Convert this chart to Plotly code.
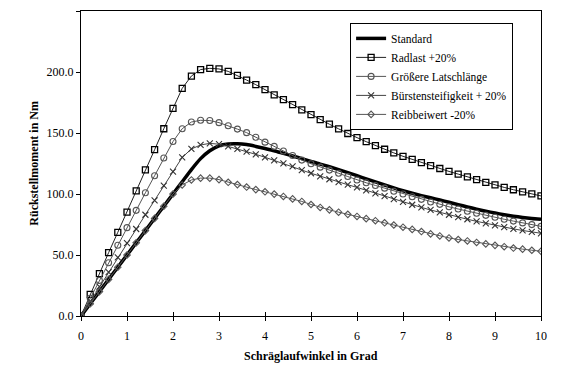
import plotly.graph_objects as go

x_grad = [0, 0.2, 0.4, 0.6, 0.8, 1.0, 1.2, 1.4, 1.6, 1.8, 2.0, 2.2, 2.4, 2.6, 2.8, 3.0, 3.2, 3.4, 3.6, 3.8,
          4.0, 4.2, 4.4, 4.6, 4.8, 5.0, 5.2, 5.4, 5.6, 5.8, 6.0, 6.2, 6.4, 6.6, 6.8, 7.0, 7.2, 7.4, 7.6, 7.8,
          8.0, 8.2, 8.4, 8.6, 8.8, 9.0, 9.2, 9.4, 9.6, 9.8, 10.0]

standard = [0, 10, 20, 30, 40, 50, 60, 70, 80, 90, 100, 110, 120, 129, 135.5, 139.5, 141, 141.2, 140.5, 139,
            137.3, 135.5, 133.3, 131.2, 129, 126.6, 124.5, 122.3, 120, 117.5, 115, 112.4, 109.9, 107.4, 105,
            102.7, 100.6, 98.7, 96.9, 95.1, 93.2, 91.3, 89.4, 87.6, 85.9, 84.4, 83, 81.8, 80.8, 79.9, 79.2]

radlast = [0, 17.8, 34.7, 51.9, 68.6, 85.2, 102.5, 119.7, 136.3, 153.5, 170.2, 186.6, 196.7, 202, 203, 202.5,
           200.5, 197.2, 193.4, 189.6, 185.5, 181.3, 177.3, 173.2, 169, 165, 160.9, 157.2, 153.4, 149.6, 146.2,
           142.9, 139.7, 136.7, 133.7, 130.9, 128.3, 125.7, 123.3, 120.9, 118.5, 116.3, 114, 111.8, 109.6,
           107.5, 105.4, 103.5, 101.8, 100.1, 98.4]

latsch = [0, 14.6, 29.2, 43.6, 58, 72.4, 86.6, 101, 115, 129.5, 143, 153.5, 159, 160.4, 160.2, 158.5, 156,
          153.2, 150.3, 146.5, 142.5, 139, 135.2, 131.5, 127.8, 124.8, 122, 119.6, 117, 114.3, 111.5, 109.2,
          107, 104.8, 102.3, 100, 97.8, 95.6, 93.5, 91.5, 89.5, 87.7, 85.9, 84.2, 82.5, 80.9, 79.3, 77.8,
          76.3, 74.9, 73.5]

buerste = [0, 12, 24, 36, 48, 59.8, 71.3, 83, 94.8, 106.8, 118.3, 130, 136.9, 140.2, 141.5, 140.8, 139, 137,
           134.8, 132.5, 130.1, 127.6, 125.1, 122.7, 119.6, 117, 114.5, 112.1, 109.8, 107.6, 105.4, 103, 100.6,
           98.2, 95.8, 93.5, 91.2, 89, 86.9, 84.9, 83, 81.1, 79.3, 77.6, 75.9, 74.3, 72.8, 71.4, 70.1, 68.9, 67.8]

reib = [0, 10, 20, 30, 40, 50, 60, 70, 80, 90, 100, 107.4, 111.5, 113, 113, 111.8, 109.6, 107.7, 105.7, 103.6,
        101.8, 99.9, 98, 96, 93.9, 91.4, 89, 87, 85.1, 83.3, 81.6, 79.8, 78.1, 76.4, 74.6, 72.8, 71, 69.2,
        67.3, 65.6, 64, 62.7, 61.5, 60.3, 59.1, 57.9, 56.8, 55.7, 54.8, 53.9, 53.1]

x_ticks = [0, 1, 2, 3, 4, 5, 6, 7, 8, 9, 10]
y_ticks = [0, 50, 100, 150, 200, 250]

FONT = "'Liberation Serif', 'Times New Roman', Times, serif"

fig = go.Figure()
fig.add_trace(go.Scatter(x=x_grad, y=standard, name="Standard", mode="lines",
                         line=dict(color="black", width=3.5, shape="spline", smoothing=0.6)))
fig.add_trace(go.Scatter(x=x_grad, y=radlast, name="Radlast +20%", mode="lines+markers",
                         line=dict(color="#222222", width=1),
                         marker=dict(symbol="square-open", size=6, color="black", line=dict(width=1.3))))
fig.add_trace(go.Scatter(x=x_grad, y=latsch, name="Größere Latschlänge", mode="lines+markers",
                         line=dict(color="#555555", width=1),
                         marker=dict(symbol="circle-open", size=6, color="#555555", line=dict(width=1.1))))
fig.add_trace(go.Scatter(x=x_grad, y=buerste, name="Bürstensteifigkeit + 20%", mode="lines+markers",
                         line=dict(color="#444444", width=1),
                         marker=dict(symbol="x-thin-open", size=6, color="#333333", line=dict(width=1.1))))
fig.add_trace(go.Scatter(x=x_grad, y=reib, name="Reibbeiwert -20%", mode="lines+markers",
                         line=dict(color="#555555", width=1),
                         marker=dict(symbol="diamond-open", size=5, color="#555555", line=dict(width=1.1))))

# helper trace so the x ticks cross the axis line (inside half)
fig.add_trace(go.Scatter(x=[0, 10], y=[None, None], xaxis="x2", showlegend=False, hoverinfo="skip"))

fig.update_layout(
    width=548, height=359,
    margin=dict(l=73, r=15, t=3, b=51),
    paper_bgcolor="white", plot_bgcolor="white",
    font=dict(family=FONT, size=12, color="black"),
    showlegend=True,
    legend=dict(x=0.585, y=0.961, xanchor="left", yanchor="top",
                bordercolor="black", borderwidth=1, bgcolor="white",
                font=dict(family=FONT, size=11.5, color="black"),
                tracegroupgap=0, itemwidth=30),
    xaxis=dict(range=[0, 10], tickvals=x_ticks, ticktext=[str(v) for v in x_ticks],
               showgrid=False, zeroline=False, showline=True, linecolor="black", linewidth=1,
               mirror=True, ticks="outside", ticklen=4, tickcolor="black",
               ticklabelstandoff=5,
               tickfont=dict(family=FONT, size=12)),
    xaxis2=dict(range=[0, 10], overlaying="x", tickvals=x_ticks, showticklabels=False,
                showgrid=False, zeroline=False, showline=False, ticks="inside", ticklen=4,
                tickcolor="black", side="bottom", anchor="y"),
    yaxis=dict(range=[0, 250], tickvals=y_ticks, ticktext=[f"{v:.1f}" for v in y_ticks],
               showgrid=False, zeroline=False, showline=True, linecolor="black", linewidth=1,
               mirror=True, ticks="outside", ticklen=4, tickcolor="black",
               tickfont=dict(family=FONT, size=12)),
    annotations=[
        dict(text="<b>Schräglaufwinkel in Grad</b>", x=0.5, y=-0.131, xref="paper", yref="paper",
             xanchor="center", yanchor="middle", showarrow=False, font=dict(family=FONT, size=12)),
        dict(text="<b>Rückstellmoment in Nm</b>", x=-0.104, y=0.5, xref="paper", yref="paper",
             xanchor="center", yanchor="middle", textangle=-90, showarrow=False,
             font=dict(family=FONT, size=12)),
    ],
)

fig.write_html("out.html")
